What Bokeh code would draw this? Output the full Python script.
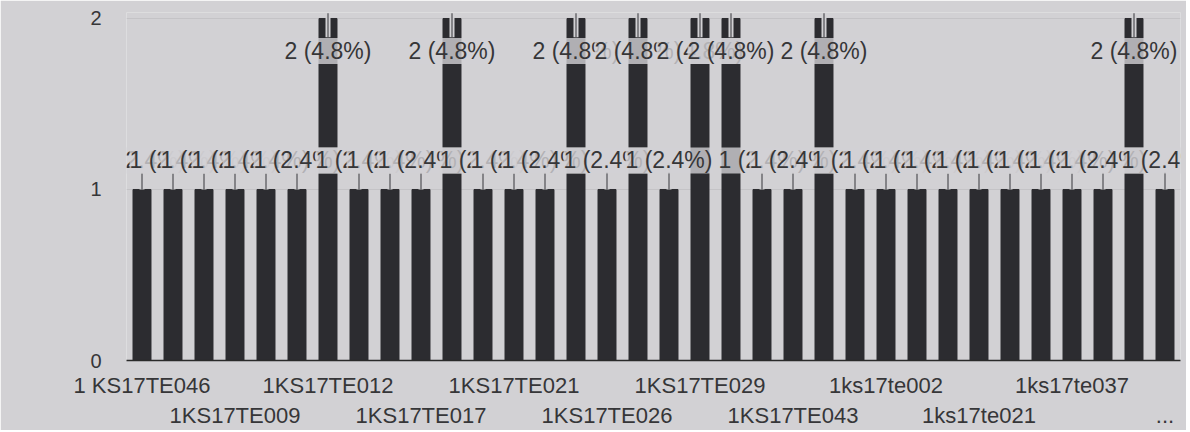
from bokeh.plotting import figure
from bokeh.models import ColumnDataSource, LabelSet, LinearAxis, FixedTicker, Range1d
from bokeh.core.properties import value
from bokeh.embed import file_html
from bokeh.resources import INLINE

# ---- data ----
values = [1, 1, 1, 1, 1, 1, 2, 1, 1, 1, 2, 1, 1, 1, 2, 1, 2,
          1, 2, 2, 1, 1, 2, 1, 1, 1, 1, 1, 1, 1, 1, 1, 2, 1]
row1_ticks = [0, 6, 12, 18, 24, 30]
row1_labels = ["1 KS17TE046", "1KS17TE012", "1KS17TE021",
               "1KS17TE029", "1ks17te002", "1ks17te037"]
row2_ticks = [3, 9, 15, 21, 27, 33]
row2_labels = ["1KS17TE009", "1KS17TE017", "1KS17TE026",
               "1KS17TE043", "1ks17te021", "..."]
y_ticks = [0, 1, 2]

# ---- style ----
BG = "#d2d1d4"
BAR = "#2c2c30"
TXT = "#363638"
FONT = "Liberation Sans"

n = len(values)
total = sum(values)
top = max(values)
xs = list(range(n))
labels = [f"{v} ({v / total * 100:.1f}%)" for v in values]
label_y = [v + 0.17 if v < top else v - 0.19 for v in values]
lead_lo = [v if v < top else v - 0.11 for v in values]
lead_hi = [v + 0.10 if v < top else v + 0.03 for v in values]

src = ColumnDataSource(dict(x=xs, v=values, lab=labels, ly=label_y,
                            lo=lead_lo, hi=lead_hi))

p = figure(width=1186, height=430,
           x_range=Range1d(-0.5, n - 0.5), y_range=Range1d(0, 2.035),
           output_backend="svg", toolbar_location=None, x_axis_type=None,
           background_fill_color=BG, border_fill_color=BG,
           outline_line_color=None,
           min_border_left=126, min_border_right=6,
           min_border_top=12, min_border_bottom=60)

p.vbar(x="x", top="v", width=0.58, source=src,
       fill_color=BAR, line_color=BAR)

p.segment(x0="x", y0="lo", x1="x", y1="hi", source=src,
          line_color=BG, line_width=5)
p.segment(x0="x", y0="lo", x1="x", y1="hi", source=src,
          line_color="#505054", line_width=1.2)

p.add_layout(LabelSet(x="x", y="ly", text="lab", source=src,
                      text_align="center", text_baseline="middle",
                      text_font=value(FONT), text_font_size=value("23px"),
                      text_color=TXT,
                      background_fill_color=BG, background_fill_alpha=0.8))

# y axis
p.yaxis.ticker = FixedTicker(ticks=y_ticks)
p.yaxis.axis_line_color = None
p.yaxis.major_tick_line_color = None
p.yaxis.minor_tick_line_color = None
p.yaxis.major_label_text_font = FONT
p.yaxis.major_label_text_font_size = "20px"
p.yaxis.major_label_text_color = TXT
p.yaxis.major_label_standoff = 19
p.ygrid.grid_line_color = "#c4c3c6"
p.ygrid.ticker = FixedTicker(ticks=y_ticks)

# x axes (two staggered rows of labels)
ax1 = LinearAxis(ticker=FixedTicker(ticks=row1_ticks),
                 major_label_overrides=dict(zip(row1_ticks, row1_labels)),
                 axis_line_color="#2a2a2a", axis_line_width=1.5,
                 major_tick_line_color=None, minor_tick_line_color=None,
                 major_label_text_font=FONT, major_label_text_font_size="22px",
                 major_label_text_color=TXT, major_label_standoff=6)
ax2 = LinearAxis(ticker=FixedTicker(ticks=row2_ticks),
                 major_label_overrides=dict(zip(row2_ticks, row2_labels)),
                 axis_line_color=None,
                 major_tick_line_color=None, minor_tick_line_color=None,
                 major_label_text_font=FONT, major_label_text_font_size="22px",
                 major_label_text_color=TXT, major_label_standoff=-4)
p.add_layout(ax1, "below")
p.add_layout(ax2, "below")

open("out.html", "w").write(file_html(p, INLINE))
